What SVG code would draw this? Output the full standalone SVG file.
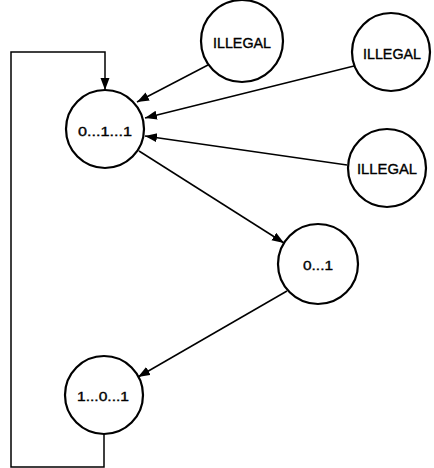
<svg xmlns="http://www.w3.org/2000/svg" width="434" height="468" viewBox="0 0 434 468">
<style>
.node circle{fill:#fff;stroke:#000;stroke-width:2.2}
.node text{font-family:"Liberation Sans",Arial,sans-serif;font-size:13px;fill:#000;stroke:#000;stroke-width:0.35;text-anchor:middle}
.conn line,.conn polyline{stroke:#000;stroke-width:1.5;fill:none;marker-end:url(#arr)}
</style>
<defs>
<marker id="arr" markerUnits="userSpaceOnUse" markerWidth="13" markerHeight="10" refX="12" refY="4.5" orient="auto">
<path d="M0,0 L12,4.5 L0,9 Z" fill="#000"/>
</marker>
</defs>
<rect width="434" height="468" fill="#fff"/>
<g id="connectors" class="conn">
<polyline points="104,434 104,467 11,467 11,52 105,52 105,90"/>
<line x1="208" y1="65" x2="137" y2="102"/>
<line x1="354" y1="66" x2="145" y2="118"/>
<line x1="347" y1="165" x2="145" y2="136"/>
<line x1="139" y1="151" x2="284" y2="243"/>
<line x1="287" y1="291" x2="138" y2="377"/>
</g>
<g id="n011" class="node"><circle cx="105" cy="129" r="39"/><text x="105" y="136" textLength="54" lengthAdjust="spacingAndGlyphs">0...1...1</text></g>
<g id="illegal1" class="node"><circle cx="242" cy="41" r="41"/><text x="242" y="48" textLength="58" lengthAdjust="spacingAndGlyphs" style="font-size:14px">ILLEGAL</text></g>
<g id="illegal2" class="node"><circle cx="391" cy="52" r="39"/><text x="392" y="59" textLength="58" lengthAdjust="spacingAndGlyphs" style="font-size:14px">ILLEGAL</text></g>
<g id="illegal3" class="node"><circle cx="387" cy="168" r="39"/><text x="387" y="174" textLength="60" lengthAdjust="spacingAndGlyphs" style="font-size:14px">ILLEGAL</text></g>
<g id="n01" class="node"><circle cx="318" cy="264" r="40"/><text x="318" y="270" textLength="30" lengthAdjust="spacingAndGlyphs">0...1</text></g>
<g id="n101" class="node"><circle cx="104" cy="395" r="39"/><text x="103" y="401" textLength="52" lengthAdjust="spacingAndGlyphs">1...0...1</text></g>
</svg>
